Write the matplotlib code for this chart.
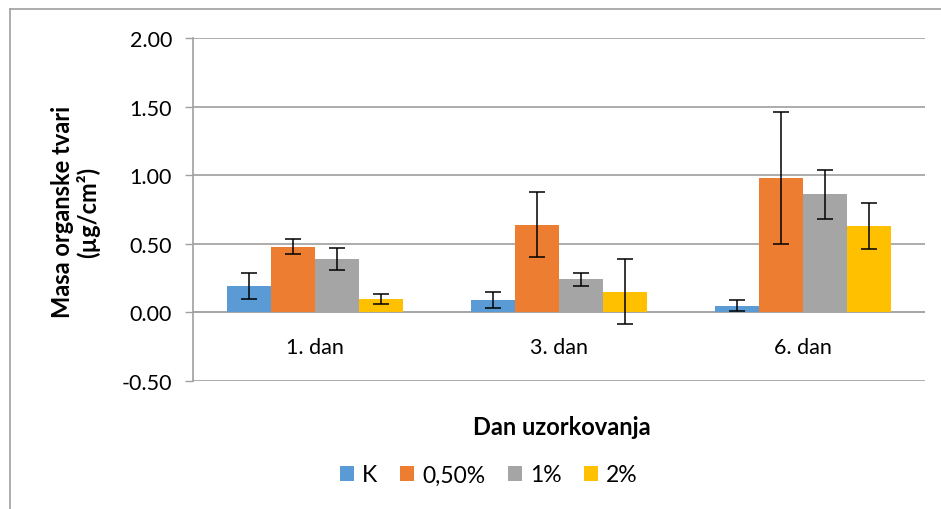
import matplotlib.pyplot as plt
import numpy as np

plt.rcParams['font.family'] = ['Lato', 'DejaVu Sans']

days = ["1. dan", "3. dan", "6. dan"]
series = ["K", "0,50%", "1%", "2%"]
colors = ["#5B9BD5", "#ED7D31", "#A5A5A5", "#FFC000"]

# mean values per series (one value per day)
k_vals = [0.19, 0.09, 0.05]
p050_vals = [0.48, 0.64, 0.98]
p1_vals = [0.39, 0.24, 0.86]
p2_vals = [0.10, 0.15, 0.63]

# standard deviations
k_err = [0.095, 0.058, 0.043]
p050_err = [0.055, 0.237, 0.478]
p1_err = [0.078, 0.045, 0.178]
p2_err = [0.037, 0.237, 0.167]

values = [k_vals, p050_vals, p1_vals, p2_vals]
errors = [k_err, p050_err, p1_err, p2_err]

fig = plt.figure(figsize=(9.41, 5.10), dpi=100)
ax = fig.add_axes([193 / 941, 1 - 382 / 510, (925 - 193) / 941, (382 - 39) / 510])

# outer chart border (cropped on right/bottom)
fig.add_artist(plt.Line2D([10 / 941, 10 / 941], [0, 1 - 10 / 510], transform=fig.transFigure,
                          color="#A0A0A0", lw=1.2))
fig.add_artist(plt.Line2D([10 / 941, 1], [1 - 10 / 510, 1 - 10 / 510], transform=fig.transFigure,
                          color="#A0A0A0", lw=1.2))

x = np.arange(len(days))
w = 0.18
for i, (name, vals, errs, c) in enumerate(zip(series, values, errors, colors)):
    ax.bar(x + (i - 1.5) * w, vals, w, color=c, label=name, zorder=2)
    ax.errorbar(x + (i - 1.5) * w, vals, yerr=errs, fmt='none', ecolor='black',
                elinewidth=1.1, capsize=6, capthick=1.1, zorder=3)

ax.set_xlim(-0.5, 2.5)
ax.set_ylim(-0.5, 2.0)
ax.set_yticks([-0.5, 0, 0.5, 1.0, 1.5, 2.0])
ax.set_yticklabels([f"{v:.2f}" for v in [-0.5, 0, 0.5, 1.0, 1.5, 2.0]], fontsize=15.5)
ax.tick_params(axis='y', length=6, width=1, color="#A0A0A0", pad=9)
ax.set_xticks([])
ax.grid(axis='y', color="#A6A6A6", lw=1.3, zorder=0)
ax.axhline(0, color="#A6A6A6", lw=1.3, zorder=1)
for s in ['top', 'right', 'bottom']:
    ax.spines[s].set_visible(False)
ax.spines['left'].set_color("#A0A0A0")
ax.spines['left'].set_linewidth(1.2)

for xi, d in zip(x, days):
    ax.text(xi, -0.255, d, ha='center', va='center', fontsize=15.5)

fig.text(76 / 941, 1 - 212 / 510, "Masa organske tvari\n(µg/cm²)", rotation=90,
         ha='center', va='center', fontsize=17, fontweight='bold', linespacing=1.1)
fig.text(562 / 941, 1 - 428 / 510, "Dan uzorkovanja", ha='center', va='center',
         fontsize=17, fontweight='bold')

fig.legend(loc='center', bbox_to_anchor=(489 / 941, 1 - 476 / 510), ncol=4, frameon=False,
           fontsize=16.5, handlelength=0.6, handleheight=0.6, handletextpad=0.35,
           columnspacing=1.0)

fig.savefig("out.png", dpi=100)
